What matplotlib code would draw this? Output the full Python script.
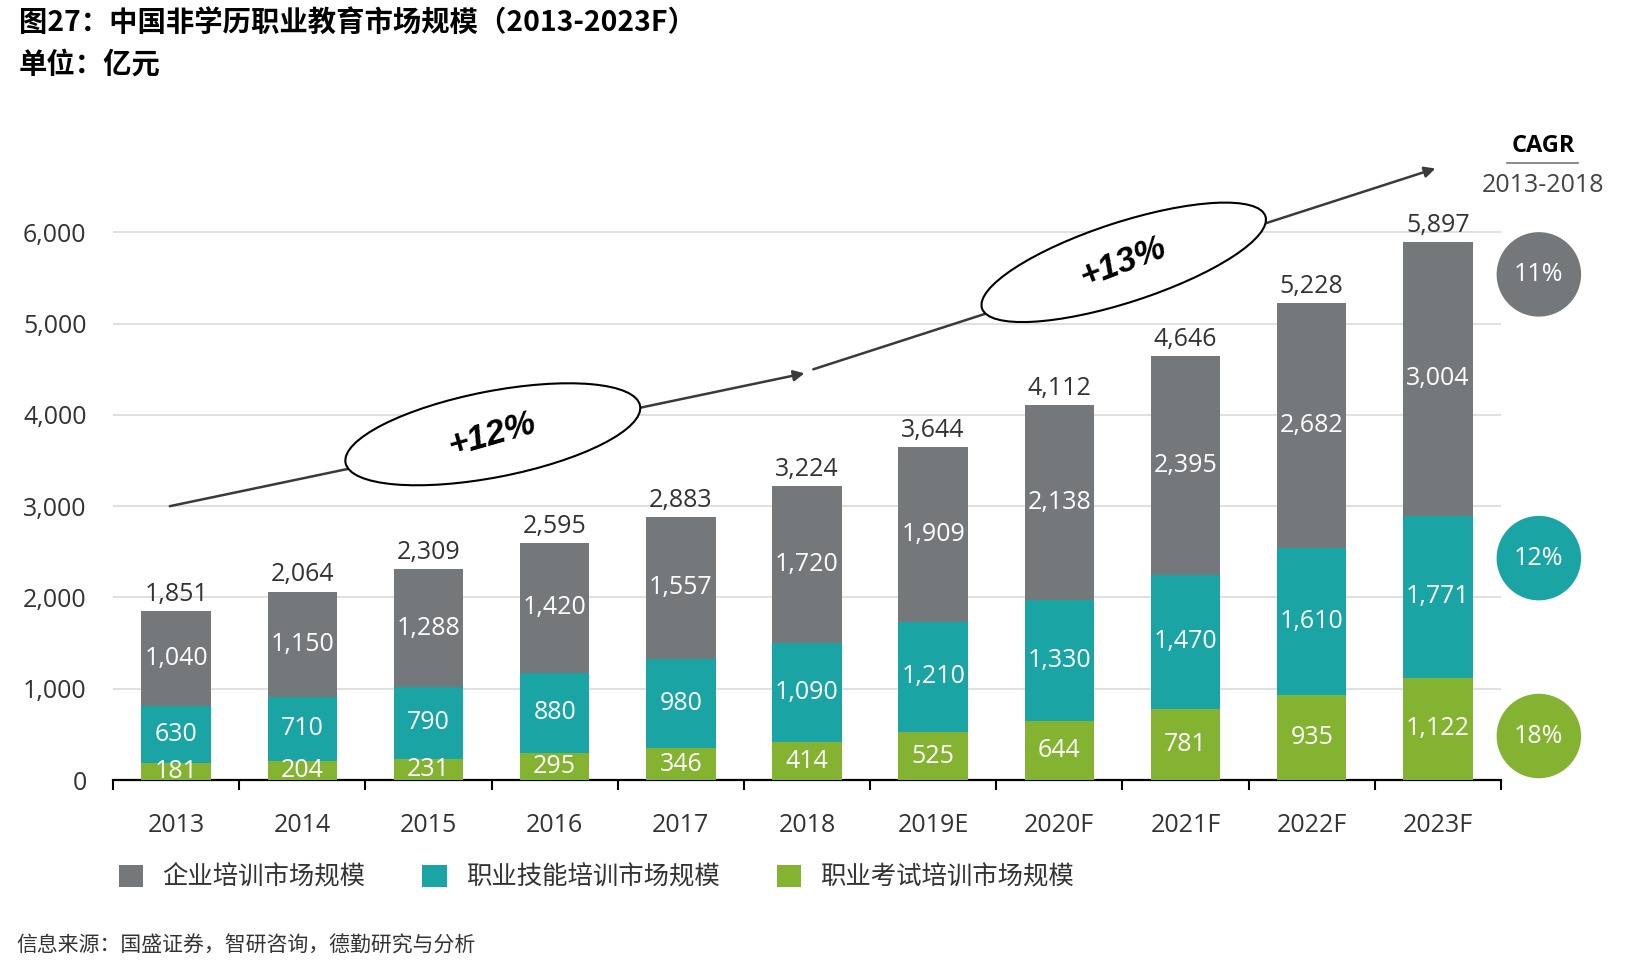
import numpy as np
import matplotlib
matplotlib.use("Agg")
import matplotlib.pyplot as plt
from matplotlib.patches import Ellipse
from matplotlib.transforms import IdentityTransform

plt.rcParams['font.family'] = ['Open Sans', 'Noto Sans CJK SC', 'DejaVu Sans']

# data (亿元)
years = ['2013', '2014', '2015', '2016', '2017', '2018', '2019E', '2020F', '2021F', '2022F', '2023F']
exam = [181, 204, 231, 295, 346, 414, 525, 644, 781, 935, 1122]
skill = [630, 710, 790, 880, 980, 1090, 1210, 1330, 1470, 1610, 1771]
corp = [1040, 1150, 1288, 1420, 1557, 1720, 1909, 2138, 2395, 2682, 3004]
totals = [1851, 2064, 2309, 2595, 2883, 3224, 3644, 4112, 4646, 5228, 5897]
series_names = ['企业培训市场规模', '职业技能培训市场规模', '职业考试培训市场规模']
cagr_labels = ['11%', '12%', '18%']
yticks = [0, 1000, 2000, 3000, 4000, 5000, 6000]

GREY = '#75787B'
TEAL = '#1AA4A4'
GREEN = '#84B231'
TXT = '#333333'

fig = plt.figure(figsize=(16.44, 9.72), dpi=100)
ax = fig.add_axes([113 / 1644, 192 / 972, 1388 / 1644, 648 / 972])

x = np.arange(len(years))
w = 0.55
exam_a = np.array(exam)
skill_a = np.array(skill)
corp_a = np.array(corp)

b1 = ax.bar(x, exam_a, w, color=GREEN, zorder=3, label=series_names[2])
b2 = ax.bar(x, skill_a, w, bottom=exam_a, color=TEAL, zorder=3, label=series_names[1])
b3 = ax.bar(x, corp_a, w, bottom=exam_a + skill_a, color=GREY, zorder=3, label=series_names[0])

fmt = lambda v: f"{v:,.0f}"
for cont in (b1, b2, b3):
    ax.bar_label(cont, labels=[fmt(r.get_height()) for r in cont], label_type='center',
                 color='white', fontsize=18, zorder=4)
ax.bar_label(b3, labels=[fmt(t) for t in totals], padding=3, color=TXT, fontsize=18)

# axes styling
ax.set_xlim(-0.5, len(years) - 0.5)
ax.set_ylim(0, 7100)
ax.set_yticks(yticks)
ax.set_yticklabels([fmt(v) for v in yticks], fontsize=18, color=TXT)
ax.tick_params(axis='y', length=0, pad=19)
for yv in yticks[1:]:
    ax.axhline(yv, color='#DADADA', lw=1.2, zorder=1)
ax.set_xticks(np.arange(-0.5, len(years)), labels=[])
ax.tick_params(axis='x', which='major', length=7, width=1.5, color='black', direction='out')
ax.set_xticks(x, minor=True)
ax.set_xticklabels(years, minor=True, fontsize=18, color=TXT)
ax.tick_params(axis='x', which='minor', length=0, pad=24)
for s in ('top', 'right', 'left'):
    ax.spines[s].set_visible(False)
ax.spines['bottom'].set_linewidth(1.6)
ax.spines['bottom'].set_color('black')

# trend arrows with CAGR ellipses
line_kw = dict(arrowstyle='-|>', color='#3A3A3A', lw=1.8, mutation_scale=16,
               shrinkA=0, shrinkB=0)
ax.annotate('', xy=(4.98, 4456), xytext=(-0.05, 3000), arrowprops=line_kw,
            annotation_clip=False, zorder=5)
ax.annotate('', xy=(9.98, 6700), xytext=(5.05, 4500), arrowprops=line_kw,
            annotation_clip=False, zorder=5)

for (cx, cy), ang, ew, eh, lab, tang in [((2.51, 3788), 11, 300, 86, '+12%', 16),
                                         ((7.51, 5672), 18, 298, 80, '+13%', 21)]:
    px, py = ax.transData.transform((cx, cy))
    e = Ellipse((px, py), ew, eh, angle=ang, transform=IdentityTransform(),
                facecolor='white', edgecolor='black', lw=1.5, zorder=6, clip_on=False)
    ax.add_artist(e)
    ax.text(cx, cy, lab, fontsize=25, fontweight='bold', fontstyle='italic',
            family=['Liberation Sans Narrow', 'Liberation Sans', 'DejaVu Sans'],
            rotation=tang, ha='center', va='center',
            rotation_mode='anchor', zorder=7, color='black')

# CAGR circles
ax.scatter([10.8] * 3, [5540, 2431, 482], s=3700, color=[GREY, TEAL, GREEN],
           clip_on=False, zorder=5, linewidths=0)
for yv, lab in zip([5540, 2431, 482], cagr_labels):
    ax.text(10.8, yv, lab, color='white', fontsize=18, ha='center', va='center',
            zorder=6, clip_on=False)

fig.text(1543 / 1644, 1 - 146 / 972, 'CAGR', fontsize=17, fontweight='bold',
         ha='center', va='center', color='black')
fig.add_artist(plt.Line2D([1507 / 1644, 1578 / 1644], [1 - 163 / 972] * 2,
                          color='#777777', lw=1.2))
fig.text(1543 / 1644, 1 - 185 / 972, '2013-2018', fontsize=18,
         ha='center', va='center', color='#444444')

# legend
leg = ax.legend(handles=[b3, b2, b1], labels=series_names, ncol=3, loc='center left',
                bbox_to_anchor=(119 / 1644, 1 - 878 / 972), bbox_transform=fig.transFigure,
                frameon=False, fontsize=18.3, handlelength=0.95, handleheight=0.95,
                handletextpad=0.75, columnspacing=2.25, borderpad=0, borderaxespad=0)
for t in leg.get_texts():
    t.set_color(TXT)

# titles
fig.text(19 / 1644, 1 - 23 / 972, '图27：中国非学历职业教育市场规模（2013-2023F）',
         fontsize=20.4, fontweight='bold', family=['Noto Sans CJK SC'],
         ha='left', va='center', color='black')
fig.text(19 / 1644, 1 - 65 / 972, '单位：亿元', fontsize=20.4, fontweight='bold',
         family=['Noto Sans CJK SC'], ha='left', va='center', color='black')
fig.text(16 / 1644, 1 - 946 / 972, '信息来源：国盛证券，智研咨询，德勤研究与分析',
         fontsize=15, family=['Noto Sans CJK SC'], ha='left', va='center', color=TXT)

fig.savefig('out.png', dpi=100)
